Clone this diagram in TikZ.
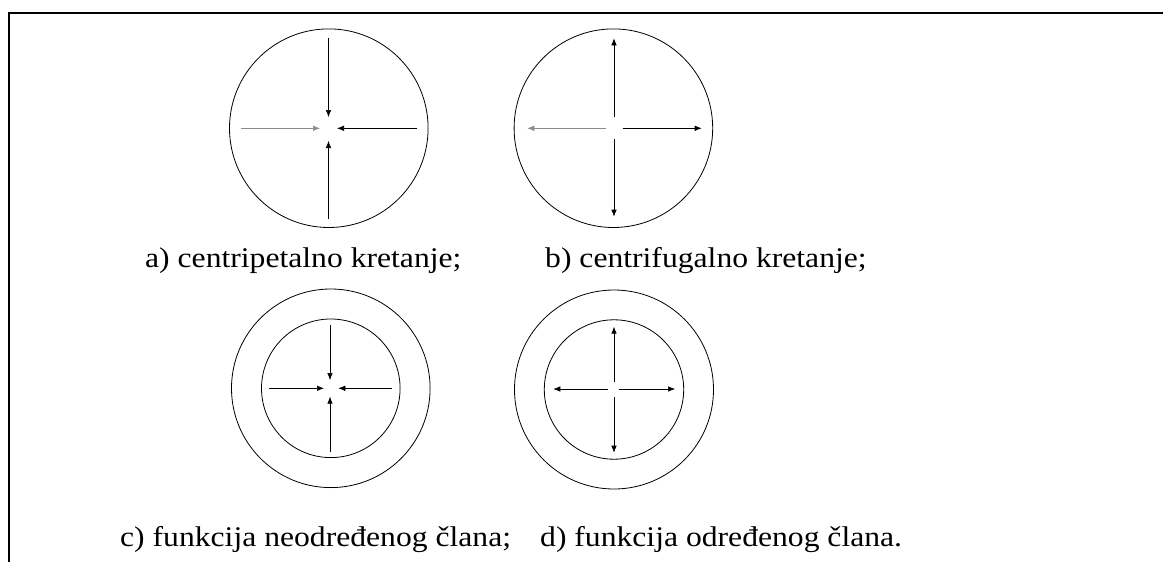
\documentclass[tikz,border=0pt]{standalone}
\usepackage{fontspec}
\setmainfont{Liberation Serif}
\usetikzlibrary{arrows.meta}
\tikzset{
  ring/.style={draw=black, line width=0.8pt, circle, inner sep=0pt, minimum size=#1},
  frameline/.style={line width=1.6pt, black},
  vec/.style={line width=0.6pt, -{Latex[length=7pt,width=5.5pt]}},
  vecgray/.style={vec, draw=black!45},
  caption/.style={anchor=base west, inner sep=0pt, font=\fontsize{28.5}{30}\selectfont}
}
\newcommand{\capt}[1]{\scalebox{1.11}[1]{#1}}
\begin{document}
\begin{tikzpicture}[x=1pt,y=-1pt]
\useasboundingbox (0,0) rectangle (1163,562);
% frame
\coordinate (fTL) at (9,13);
\coordinate (fTR) at (1163,13);
\coordinate (fBL) at (9,562);
\draw[frameline] (fBL) -- (fTL) -- (fTR);
% circles
\node[ring=198.6pt] (ca) at (328.8,128.2) {};
\node[ring=198.6pt] (cb) at (613.4,128.2) {};
\node[ring=198.6pt] (cco) at (330.8,388.3) {};
\node[ring=138.6pt] (cci) at (330.8,388.3) {};
\node[ring=199pt] (cdo) at (614,389.5) {};
\node[ring=139.4pt] (cdi) at (614,389.5) {};
% a) centripetal
\coordinate (a1s) at (328.5,38);   \coordinate (a1e) at (328.5,117);
\coordinate (a2s) at (328.5,219);  \coordinate (a2e) at (328.5,141);
\coordinate (a3s) at (241,128.3);  \coordinate (a3e) at (320,128.3);
\coordinate (a4s) at (417,128.3);  \coordinate (a4e) at (337,128.3);
\draw[vec] (a1s) -- (a1e);
\draw[vec] (a2s) -- (a2e);
\draw[vecgray] (a3s) -- (a3e);
\draw[vec] (a4s) -- (a4e);
% b) centrifugal
\coordinate (b1s) at (614,117);    \coordinate (b1e) at (614,38.3);
\coordinate (b2s) at (614,139);    \coordinate (b2e) at (614,216.7);
\coordinate (b3s) at (606,128.3);  \coordinate (b3e) at (527.3,128.3);
\coordinate (b4s) at (622.7,128.3);\coordinate (b4e) at (701.7,128.3);
\draw[vec] (b1s) -- (b1e);
\draw[vec] (b2s) -- (b2e);
\draw[vecgray] (b3s) -- (b3e);
\draw[vec] (b4s) -- (b4e);
% c)
\coordinate (c1s) at (330,325);    \coordinate (c1e) at (330,380);
\coordinate (c2s) at (330,451.7);  \coordinate (c2e) at (330,396.7);
\coordinate (c3s) at (269.3,388.3);\coordinate (c3e) at (324,388.3);
\coordinate (c4s) at (391.7,388.3);\coordinate (c4e) at (338.3,388.3);
\draw[vec] (c1s) -- (c1e);
\draw[vec] (c2s) -- (c2e);
\draw[vec] (c3s) -- (c3e);
\draw[vec] (c4s) -- (c4e);
% d)
\coordinate (d1s) at (614,381.7);  \coordinate (d1e) at (614,326.7);
\coordinate (d2s) at (614,397.3);  \coordinate (d2e) at (614,452.7);
\coordinate (d3s) at (608.3,389);  \coordinate (d3e) at (553.3,389);
\coordinate (d4s) at (619.3,389);  \coordinate (d4e) at (675,389);
\draw[vec] (d1s) -- (d1e);
\draw[vec] (d2s) -- (d2e);
\draw[vec] (d3s) -- (d3e);
\draw[vec] (d4s) -- (d4e);
% captions
\node[caption] (ta) at (145,267) {\capt{a) centripetalno kretanje;}};
\node[caption] (tb) at (545,267) {\capt{b) centrifugalno kretanje;}};
\node[caption] (tc) at (120,546) {\capt{c) funkcija neodređenog člana;}};
\node[caption] (td) at (540,546) {\capt{d) funkcija određenog člana.}};
\end{tikzpicture}
\end{document}
